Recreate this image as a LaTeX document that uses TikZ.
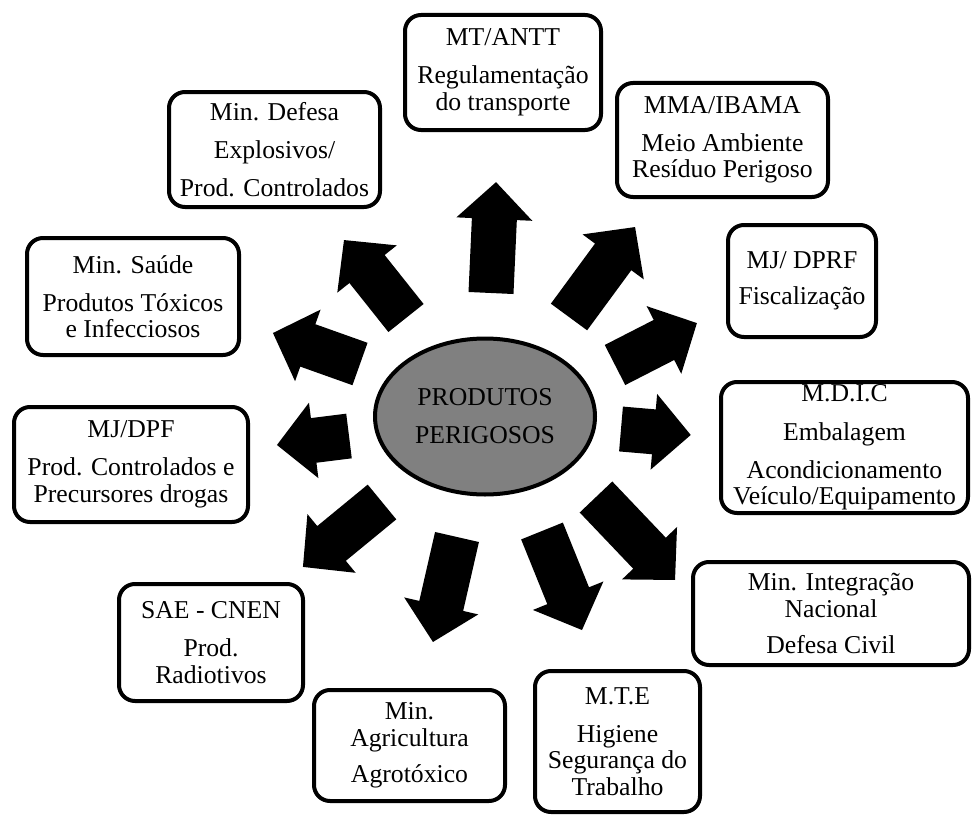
\documentclass[tikz,border=0pt]{standalone}
\usepackage{fontspec}
\setmainfont{Liberation Serif}
\usetikzlibrary{shapes.geometric}
\newcommand{\boxfont}{\fontsize{25.7}{26.5}\selectfont}

\begin{document}
\begin{tikzpicture}[x=1pt,y=-1pt,
  orgbox/.style={draw, line width=4pt, rounded corners=16pt, align=center, inner sep=2pt, font=\boxfont},
  hub/.style={ellipse, draw, line width=4pt, fill=black!50, align=center, inner sep=0pt, font=\boxfont}]
\useasboundingbox (0,0) rectangle (972,816);
% centre
\node[hub, minimum width=220, minimum height=156] (produtos) at (485,416.5) {PRODUTOS\\[11.5pt]PERIGOSOS};
% boxes
\node[orgbox, minimum width=196, minimum height=115] (mtantt) at (503,72.5) {MT/ANTT\\[11.5pt]Regulamentação\\do transporte};
\node[orgbox, minimum width=211, minimum height=115] (defesa) at (274.5,149.5) {Min. Defesa\\[11.5pt]Explosivos/\\[11.5pt]Prod. Controlados};
\node[orgbox, minimum width=211, minimum height=114] (ibama) at (722.5,140) {MMA/IBAMA\\[11.5pt]Meio Ambiente\\Resíduo Perigoso};
\node[orgbox, minimum width=148, minimum height=112] (dprf) at (802,281) {MJ/ DPRF\\[9.5pt]Fiscalização};
\node[orgbox, minimum width=212, minimum height=117] (saude) at (133,296.5) {Min. Saúde\\[11.5pt]Produtos Tóxicos\\e Infecciosos};
\node[orgbox, minimum width=234, minimum height=115] (dpf) at (131,464.5) {MJ/DPF\\[11.5pt]Prod. Controlados e\\Precursores drogas};
\node[orgbox, minimum width=247, minimum height=131] (mdic) at (844.5,447.5) {M.D.I.C\\[12pt]Embalagem\\[11.5pt]Acondicionamento\\Veículo/Equipamento};
\node[orgbox, minimum width=276, minimum height=103] (integracao) at (831,613.5) {Min. Integração\\Nacional\\[9.5pt]Defesa Civil};
\node[orgbox, minimum width=165, minimum height=141] (mte) at (617.5,741.5) {M.T.E\\[11.5pt]Higiene\\Segurança do\\Trabalho};
\node[orgbox, minimum width=191, minimum height=111] (agricultura) at (409.5,745.5) {Min.\\Agricultura\\[10pt]Agrotóxico};
\node[orgbox, minimum width=184, minimum height=117] (cnen) at (211,642.5) {SAE - CNEN\\[12pt]Prod.\\Radiotivos};
% block arrows: tail x / tail y / angle / length
\foreach \x/\y/\a/\l in {491/293/87.4/111, 569/317/53.7/111.6, 615/365/27.1/92,
    621/429/-4.9/70, 596/497/-46.4/114.6, 542/531/-68/106.8, 457/537/-102.9/107.7,
    382/502/-140.6/102.3, 349/436/187.1/72.6, 360/364/160.4/92.4, 406/318/128.5/99.6}
  \fill[shift={(\x,\y)}, rotate=\a] (0,-22.5) -- ({\l-37},-22.5) -- ({\l-37},-38) -- (\l,0)
    -- ({\l-37},38) -- ({\l-37},22.5) -- (0,22.5) -- cycle;
\end{tikzpicture}
\end{document}
